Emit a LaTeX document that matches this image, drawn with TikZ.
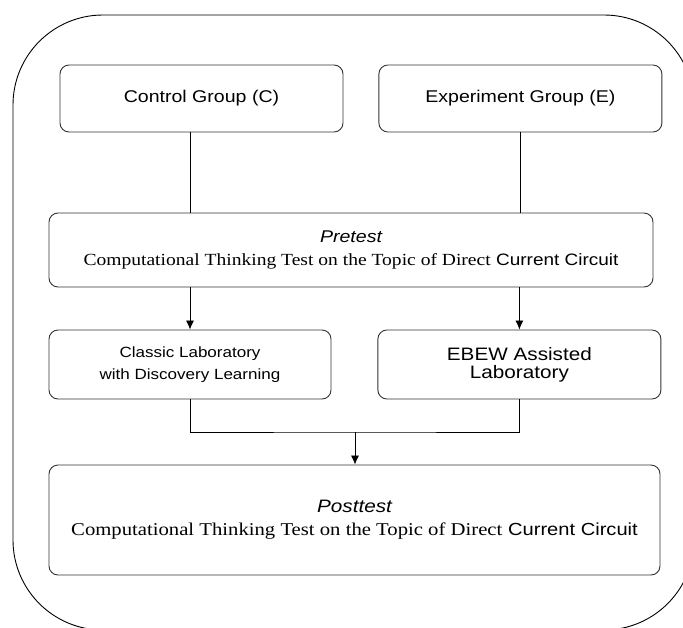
\documentclass[tikz,border=0pt]{standalone}
\usepackage{fontspec}
\setmainfont{Liberation Sans}[FakeStretch=1.15]
\newfontfamily\timesfont{Liberation Serif}[FakeStretch=1.15]
\usetikzlibrary{arrows.meta, positioning}

\begin{document}
\begin{tikzpicture}[x=1pt, y=-1pt,
    box/.style={rectangle, draw=black!80, line width=0.9pt, rounded corners=9pt, align=center, inner sep=0pt},
    line/.style={draw, line width=0.8pt},
    arrow/.style={-{Latex[length=9pt, width=8pt]}, line width=0.8pt}]

    \useasboundingbox (0,0) rectangle (683,627);

    % Outer frame
    \draw[line width=0.9pt, rounded corners=90pt] (13,15) rectangle (694,630);

    % Nodes
    \node[box, minimum width=283pt, minimum height=67pt, font=\fontsize{17}{20}\selectfont] (control) at (201.5,98.5) {Control Group (C)};
    \node[box, minimum width=283pt, minimum height=67pt, font=\fontsize{17}{20}\selectfont, right=35pt of control] (experiment) {Experiment Group (E)};
    \node[box, minimum width=604pt, minimum height=74pt, font=\fontsize{17}{23}\selectfont] (pretest) at (351,250)
        {{\itshape Pretest}\\{\timesfont Computational Thinking Test on the Topic of Direct} {\fontsize{16.5}{23}\selectfont Current Circuit}};
    \node[box, minimum width=282pt, minimum height=69pt, font=\fontsize{14.8}{22}\selectfont] (classic) at (190,364.5)
        {Classic Laboratory\\with Discovery Learning};
    \node[box, minimum width=283pt, minimum height=69pt, font=\fontsize{18}{18}\selectfont, right=46pt of classic] (ebew)
        {EBEW Assisted\\Laboratory};
    \node[box, minimum width=611pt, minimum height=110pt, font=\fontsize{18}{23}\selectfont] (posttest) at (354.5,520)
        {{\itshape Posttest}\\{\timesfont Computational Thinking Test on the Topic of Direct} {\fontsize{17.5}{23}\selectfont Current Circuit}};
    \coordinate (join) at (355,432);

    % Connectors
    \draw[line] (control.south -| classic) -- (pretest.north -| classic);
    \draw[line] (experiment.south) -- (pretest.north -| experiment);
    \draw[arrow] (pretest.south -| classic) -- (classic.north);
    \draw[arrow] (pretest.south -| ebew) -- (ebew.north);
    \draw[line] (classic.south) |- (join) -| (ebew.south);
    \draw[arrow] (join) -- (join |- posttest.north);

\end{tikzpicture}
\end{document}
